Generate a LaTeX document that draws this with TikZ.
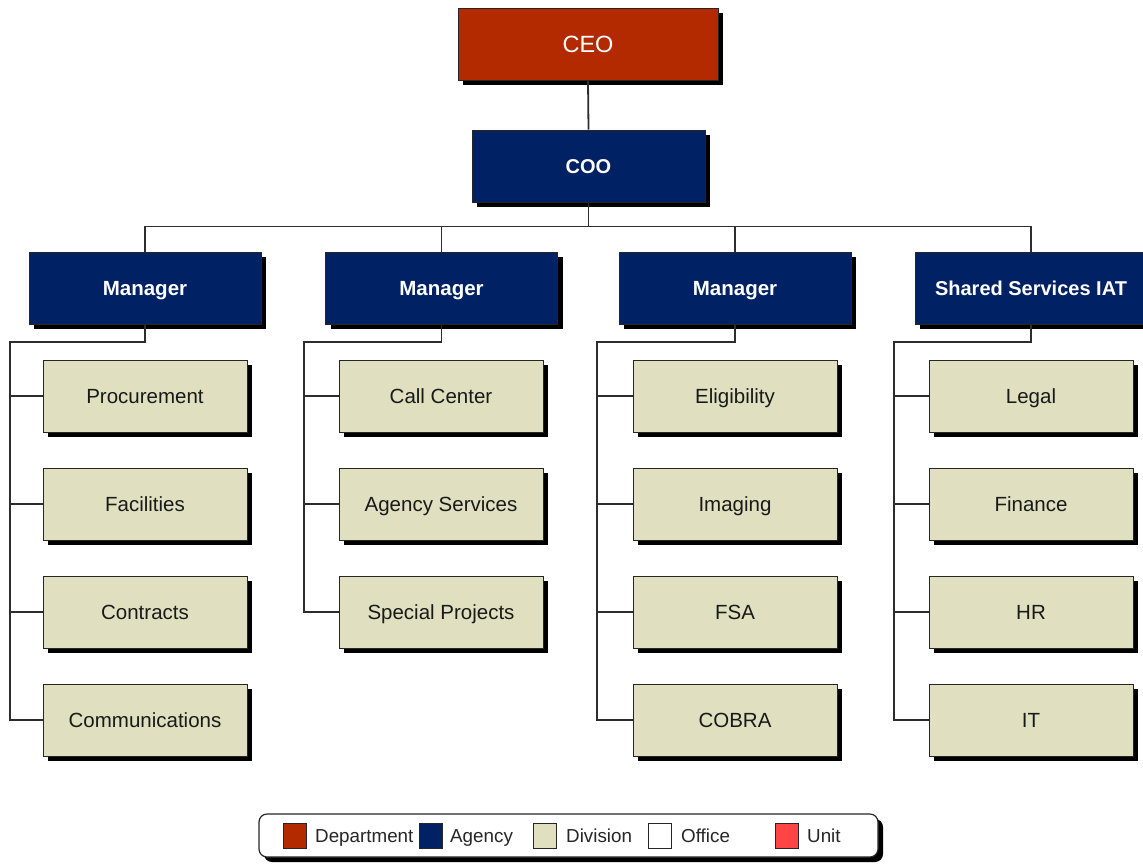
\documentclass[tikz,border=0pt]{standalone}
\usepackage{fontspec}
\setmainfont{Liberation Sans}
\usetikzlibrary{shadows}
\definecolor{dept}{RGB}{180,42,0}
\definecolor{agency}{RGB}{0,34,100}
\definecolor{division}{RGB}{224,224,192}
\definecolor{unitred}{RGB}{255,68,68}
\definecolor{conn}{RGB}{45,45,45}
\begin{document}
\begin{tikzpicture}[x=1pt,y=-1pt,
 shadowed/.style={drop shadow={fill=black,opacity=1,shadow xshift=5pt,shadow yshift=-5pt}},
 base/.style={draw=black!85,line width=1pt,inner sep=0pt,shadowed,text height=18pt,text depth=3.3pt},
 ceobox/.style={base,fill=dept,text=white,minimum width=260pt,minimum height=72pt,font=\fontsize{23.5}{28}\selectfont,text height=20pt,text depth=3.2pt},
 coobox/.style={base,fill=agency,text=white,minimum width=233pt,minimum height=72pt,font=\fontsize{20}{24}\selectfont\bfseries},
 mgrbox/.style={base,fill=agency,text=white,minimum width=232pt,minimum height=72pt,font=\fontsize{20.5}{24}\selectfont\bfseries},
 divbox/.style={base,fill=division,text=black!90,minimum width=204pt,minimum height=72pt,font=\fontsize{20.5}{24}\selectfont},
 link/.style={draw=conn,line width=1.8pt},
 swatch/.style={draw=black!85,line width=1pt,minimum width=23pt,minimum height=25pt,inner sep=0pt},
 legtext/.style={anchor=west,inner sep=0pt,text height=16.5pt,text depth=3pt,font=\fontsize{18.8}{22}\selectfont,text=black!85}
]
\useasboundingbox (0,0) rectangle (1143,863);

\coordinate (t1) at (10,342);
\coordinate (t2) at (304,342);
\coordinate (t3) at (597,342);
\coordinate (t4) at (894,342);

% nodes
\node[ceobox] (ceo) at (588,44) {CEO};
\node[coobox] (coo) at (588.5,166) {COO};

\node[mgrbox] (m1) at (145,288) {Manager};
\node[mgrbox] (m2) at (441.5,288) {Manager};
\node[mgrbox] (m3) at (735,288) {Manager};
\node[mgrbox,font=\fontsize{20}{24}\selectfont\bfseries] (m4) at (1031,288) {Shared Services IAT};

\node[divbox] (d11) at (145,396) {Procurement};
\node[divbox] (d12) at (145,504) {Facilities};
\node[divbox] (d13) at (145,612) {Contracts};
\node[divbox] (d14) at (145,720) {Communications};

\node[divbox] (d21) at (441,396) {Call Center};
\node[divbox] (d22) at (441,504) {Agency Services};
\node[divbox] (d23) at (441,612) {Special Projects};

\node[divbox] (d31) at (735,396) {Eligibility};
\node[divbox] (d32) at (735,504) {Imaging};
\node[divbox] (d33) at (735,612) {FSA};
\node[divbox] (d34) at (735,720) {COBRA};

\node[divbox] (d41) at (1031,396) {Legal};
\node[divbox] (d42) at (1031,504) {Finance};
\node[divbox] (d43) at (1031,612) {HR};
\node[divbox] (d44) at (1031,720) {IT};

% top connectors
\draw[link] (ceo.south) -- (coo.north);
\draw[link] (coo.south) -- ++(0,24) -| (m1.north);
\draw[link] (coo.south) -- ++(0,24) -| (m2.north);
\draw[link] (coo.south) -- ++(0,24) -| (m3.north);
\draw[link] (coo.south) -- ++(0,24) -| (m4.north);

% column 1
\draw[link] (m1.south) |- (t1) |- (d14.west);
\draw[link] (t1 |- d11.west) -- (d11.west);
\draw[link] (t1 |- d12.west) -- (d12.west);
\draw[link] (t1 |- d13.west) -- (d13.west);
% column 2
\draw[link] (m2.south) |- (t2) |- (d23.west);
\draw[link] (t2 |- d21.west) -- (d21.west);
\draw[link] (t2 |- d22.west) -- (d22.west);
% column 3
\draw[link] (m3.south) |- (t3) |- (d34.west);
\draw[link] (t3 |- d31.west) -- (d31.west);
\draw[link] (t3 |- d32.west) -- (d32.west);
\draw[link] (t3 |- d33.west) -- (d33.west);
% column 4
\draw[link] (m4.south) |- (t4) |- (d44.west);
\draw[link] (t4 |- d41.west) -- (d41.west);
\draw[link] (t4 |- d42.west) -- (d42.west);
\draw[link] (t4 |- d43.west) -- (d43.west);

% legend
\node[draw=black!85,line width=1.2pt,rounded corners=8pt,fill=white,minimum width=619pt,minimum height=43pt,inner sep=0pt,shadowed] (legend) at (568.5,835.5) {};
\node[swatch,fill=dept] (s1) at (294.5,835.5) {};
\node[legtext] (l1) at (315,836) {Department};
\node[swatch,fill=agency] (s2) at (431,835.5) {};
\node[legtext] (l2) at (450,836) {Agency};
\node[swatch,fill=division] (s3) at (544.5,835.5) {};
\node[legtext] (l3) at (566,836) {Division};
\node[swatch,fill=white] (s4) at (660,835.5) {};
\node[legtext] (l4) at (681,836) {Office};
\node[swatch,fill=unitred] (s5) at (786.5,835.5) {};
\node[legtext] (l5) at (807,836) {Unit};
\end{tikzpicture}
\end{document}
